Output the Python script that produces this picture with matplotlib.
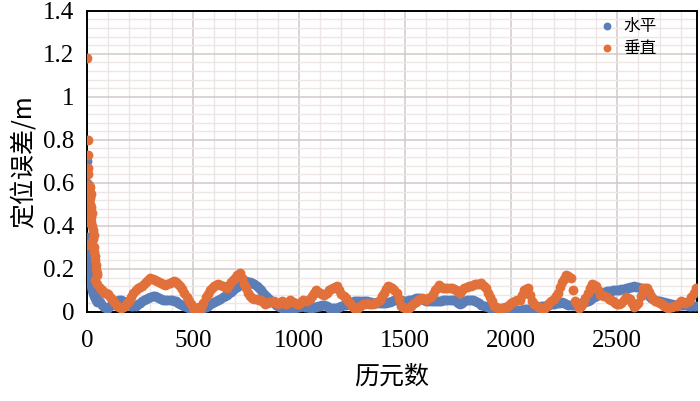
import numpy as np
import matplotlib
matplotlib.use("Agg")
import matplotlib.pyplot as plt
from matplotlib.ticker import MultipleLocator

plt.rcParams['font.family'] = ['Liberation Serif', 'Noto Sans CJK SC', 'DejaVu Sans']

# first epochs (dense, the convergence spike)
head_epochs = [0, 1, 2, 3, 4, 5, 6, 7, 8, 9, 10, 11, 12, 13, 14, 15, 16, 17, 18, 19,
               20, 22, 24, 26, 28, 30, 32, 34, 36, 38, 40, 42, 44, 46, 48]
head_horizontal = [0.70, 0.60, 0.48, 0.55, 0.43, 0.35, 0.30, 0.33, 0.27, 0.24,
                   0.22, 0.21, 0.20, 0.18, 0.17, 0.17, 0.16, 0.15, 0.15, 0.14,
                   0.13, 0.12, 0.11, 0.10, 0.095, 0.09, 0.085, 0.08, 0.075, 0.07,
                   0.065, 0.06, 0.055, 0.05, 0.048]
head_vertical = [1.18, 0.31, 0.42, 0.66, 0.59, 0.80, 0.73, 0.67, 0.64, 0.57,
                 0.59, 0.55, 0.52, 0.58, 0.50, 0.56, 0.47, 0.53, 0.44, 0.49,
                 0.42, 0.55, 0.46, 0.40, 0.38, 0.34, 0.36, 0.30, 0.28, 0.26,
                 0.24, 0.22, 0.20, 0.18, 0.17]

# rest of the run, one reading every 10 epochs (40 ... 2870), one row per 100 epochs
body_epochs = list(range(40, 2880, 10))
body_horizontal = [
    0.08, 0.06, 0.045, 0.033, 0.025, 0.02, 0.02, 0.028, 0.035, 0.045,        # 40
    0.05, 0.057, 0.055, 0.05, 0.045, 0.038, 0.033, 0.03, 0.027, 0.03,        # 140
    0.035, 0.042, 0.05, 0.055, 0.06, 0.065, 0.068, 0.072, 0.073, 0.07,       # 240
    0.065, 0.06, 0.057, 0.058, 0.057, 0.056, 0.055, 0.052, 0.05, 0.044,      # 340
    0.038, 0.032, 0.026, 0.022, 0.018, 0.016, 0.015, 0.014, 0.015, 0.016,    # 440
    0.015, 0.02, 0.025, 0.03, 0.035, 0.04, 0.045, 0.05, 0.057, 0.062,        # 540
    0.068, 0.073, 0.078, 0.086, 0.095, 0.102, 0.11, 0.118, 0.125, 0.133,     # 640
    0.14, 0.142, 0.14, 0.138, 0.135, 0.128, 0.12, 0.11, 0.10, 0.09,          # 740
    0.08, 0.07, 0.06, 0.05, 0.04, 0.033, 0.027, 0.023, 0.02, 0.019,          # 840
    0.018, 0.017, 0.018, 0.019, 0.02, 0.023, 0.025, 0.026, 0.026, 0.024,     # 940
    0.022, 0.02, 0.018, 0.021, 0.025, 0.028, 0.03, 0.032, 0.034, 0.027,      # 1040
    0.02, 0.019, 0.018, 0.019, 0.02, 0.025, 0.03, 0.032, 0.034, 0.038,       # 1140
    0.042, 0.046, 0.05, 0.05, 0.05, 0.05, 0.05, 0.05, 0.05, 0.047,           # 1240
    0.045, 0.043, 0.042, 0.042, 0.042, 0.042, 0.042, 0.043, 0.045, 0.048,    # 1340
    0.05, 0.054, 0.057, 0.056, 0.055, 0.052, 0.05, 0.052, 0.055, 0.058,      # 1440
    0.06, 0.063, 0.065, 0.063, 0.06, 0.055, 0.05, 0.05, 0.05, 0.05,          # 1540
    0.05, 0.05, 0.05, 0.052, 0.055, 0.056, 0.057, 0.057, 0.057, 0.054,       # 1640
    0.05, 0.042, 0.035, 0.042, 0.05, 0.054, 0.057, 0.056, 0.055, 0.05,       # 1740
    0.045, 0.04, 0.034, 0.03, 0.026, 0.022, 0.018, 0.014, 0.01, 0.01,        # 1840
    0.01, 0.01, 0.01, 0.01, 0.01, 0.01, 0.01, 0.01, 0.01, 0.01,              # 1940
    0.01, 0.011, 0.012, 0.013, 0.015, 0.016, 0.018, 0.019, 0.02, 0.023,      # 2040
    0.026, 0.028, 0.03, 0.032, 0.034, 0.036, 0.038, 0.04, 0.042, 0.044,      # 2140
    0.045, 0.04, 0.035, 0.034, 0.034, 0.034, 0.034, 0.034, 0.035, 0.04,      # 2240
    0.045, 0.048, 0.05, 0.058, 0.065, 0.07, 0.075, 0.08, 0.085, 0.09,        # 2340
    0.095, 0.097, 0.098, 0.099, 0.10, 0.10, 0.10, 0.102, 0.105, 0.108,       # 2440
    0.11, 0.112, 0.115, 0.118, 0.12, 0.118, 0.115, 0.11, 0.105, 0.095,       # 2540
    0.085, 0.075, 0.065, 0.06, 0.055, 0.052, 0.05, 0.048, 0.045, 0.042,      # 2640
    0.04, 0.037, 0.035, 0.034, 0.034, 0.034, 0.034, 0.034, 0.034, 0.034,     # 2740
    0.03, 0.029, 0.028, 0.03,                                                # 2840
]
body_vertical = [
    0.15, 0.13, 0.11, 0.10, 0.09, 0.09, 0.085, 0.07, 0.06, 0.045,            # 40
    0.03, 0.025, 0.02, 0.025, 0.03, 0.04, 0.05, 0.07, 0.09, 0.10,            # 140
    0.11, 0.115, 0.12, 0.13, 0.14, 0.15, 0.16, 0.155, 0.15, 0.145,           # 240
    0.14, 0.135, 0.13, 0.125, 0.13, 0.135, 0.14, 0.145, 0.14, 0.13,          # 340
    0.12, 0.105, 0.09, 0.07, 0.05, 0.035, 0.02, 0.018, 0.02, 0.022,          # 440
    0.02, 0.04, 0.07, 0.085, 0.10, 0.11, 0.12, 0.125, 0.13, 0.125,           # 540
    0.12, 0.115, 0.11, 0.125, 0.14, 0.15, 0.16, 0.17, 0.18, 0.16,            # 640
    0.13, 0.11, 0.09, 0.075, 0.065, 0.06, 0.06, 0.058, 0.055, 0.045,         # 740
    0.035, 0.04, 0.045, 0.048, 0.05, 0.042, 0.035, 0.042, 0.05, 0.042,       # 840
    0.035, 0.045, 0.055, 0.048, 0.04, 0.038, 0.035, 0.045, 0.055, 0.052,     # 940
    0.05, 0.062, 0.075, 0.088, 0.10, 0.095, 0.09, 0.085, 0.08, 0.09,         # 1040
    0.10, 0.105, 0.11, 0.115, 0.12, 0.10, 0.085, 0.075, 0.065, 0.052,        # 1140
    0.04, 0.03, 0.02, 0.02, 0.02, 0.028, 0.035, 0.038, 0.04, 0.038,          # 1240
    0.035, 0.038, 0.04, 0.048, 0.055, 0.072, 0.09, 0.105, 0.12, 0.115,       # 1340
    0.11, 0.10, 0.09, 0.06, 0.03, 0.022, 0.018, 0.019, 0.02, 0.03,           # 1440
    0.04, 0.048, 0.055, 0.06, 0.065, 0.061, 0.057, 0.063, 0.07, 0.085,       # 1540
    0.10, 0.112, 0.125, 0.118, 0.11, 0.11, 0.11, 0.11, 0.11, 0.105,          # 1640
    0.10, 0.094, 0.088, 0.10, 0.11, 0.115, 0.12, 0.122, 0.125, 0.128,        # 1740
    0.13, 0.132, 0.135, 0.122, 0.11, 0.09, 0.07, 0.05, 0.03, 0.025,          # 1840
    0.02, 0.019, 0.018, 0.022, 0.025, 0.032, 0.04, 0.045, 0.05, 0.054,       # 1940
    0.057, 0.08, 0.10, 0.105, 0.11, 0.08, 0.05, 0.038, 0.026, 0.022,         # 2040
    0.018, 0.018, 0.018, 0.028, 0.04, 0.05, 0.06, 0.075, 0.09, 0.115,        # 2140
    0.14, 0.155, 0.17, 0.165, 0.16, 0.10, 0.05, 0.035, 0.02, 0.03,           # 2240
    0.04, 0.065, 0.09, 0.11, 0.13, 0.125, 0.12, 0.10, 0.08, 0.078,           # 2340
    0.075, 0.068, 0.06, 0.055, 0.05, 0.042, 0.035, 0.038, 0.04, 0.055,       # 2440
    0.07, 0.065, 0.06, 0.042, 0.025, 0.032, 0.04, 0.075, 0.11, 0.11,         # 2540
    0.11, 0.092, 0.075, 0.062, 0.05, 0.045, 0.04, 0.035, 0.03, 0.025,        # 2640
    0.02, 0.022, 0.025, 0.028, 0.03, 0.04, 0.05, 0.045, 0.04, 0.045,         # 2740
    0.05, 0.07, 0.09, 0.11,                                                  # 2840
]

epochs_h = np.array(head_epochs + body_epochs)
horizontal = np.array(head_horizontal + body_horizontal)
vertical = np.array(head_vertical + body_vertical)

blue = "#5b7db8"
orange = "#e2703a"
cjk = ['Noto Sans CJK SC', 'DejaVu Sans']

fig = plt.figure(figsize=(7, 4.01), dpi=100)
ax = fig.add_axes([0.124, 0.222, 0.872, 0.751])

ax.scatter(epochs_h, horizontal, s=50, color=blue, linewidths=0, label="水平", zorder=3)
ax.scatter(epochs_h, vertical, s=50, color=orange, linewidths=0, label="垂直", zorder=4)

ax.set_xlim(0, 2877)
ax.set_ylim(0, 1.4)
ax.xaxis.set_major_locator(MultipleLocator(500))
ax.xaxis.set_minor_locator(MultipleLocator(100))
ax.yaxis.set_minor_locator(MultipleLocator(0.04))
ax.set_yticks([0, 0.2, 0.4, 0.6, 0.8, 1.0, 1.2, 1.4])
ax.set_yticklabels(["0", "0.2", "0.4", "0.6", "0.8", "1", "1.2", "1.4"])

ax.grid(which="major", color="#d3c8c8", linewidth=1.1, zorder=0)
ax.grid(which="minor", color="#eee5e5", linewidth=1.0, zorder=0)
ax.set_axisbelow(True)
ax.tick_params(which="both", length=0)
ax.tick_params(axis="x", labelsize=18, pad=13)
ax.tick_params(axis="y", labelsize=18, pad=9)
for sp in ax.spines.values():
    sp.set_color("black")
    sp.set_linewidth(1.4)

ax.set_xlabel("历元数", family=cjk, fontsize=18, labelpad=8)
ax.set_ylabel("定位误差/m", family=cjk, fontsize=18, labelpad=4)

leg = ax.legend(loc="upper right", bbox_to_anchor=(0.95, 1.01), frameon=False,
                prop={'family': cjk, 'size': 12}, handletextpad=0.0,
                borderaxespad=0.2, labelspacing=0.3, markerscale=0.8)

fig.savefig("out.png", dpi=100)
